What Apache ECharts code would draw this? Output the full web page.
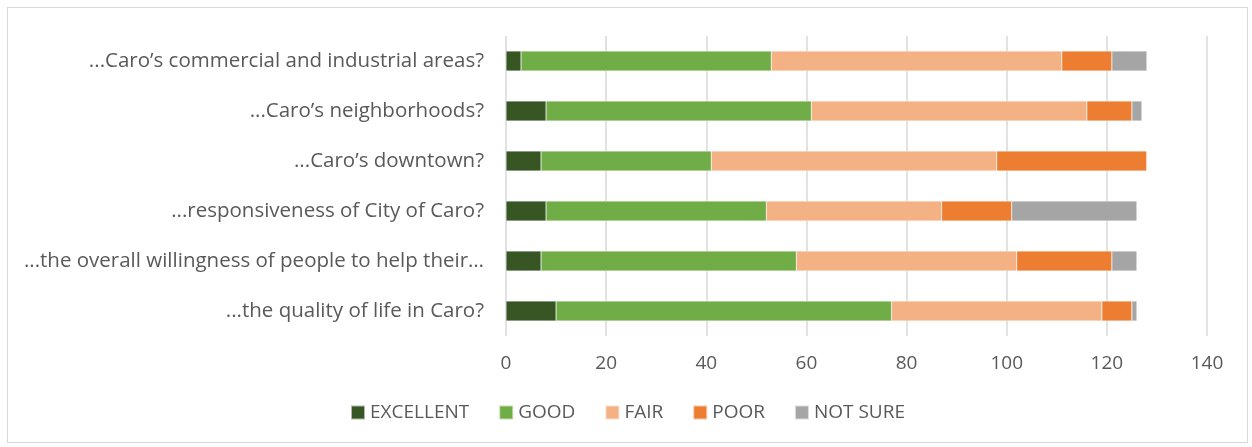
<!DOCTYPE html>
<html>
<head>
<meta charset="utf-8">
<script src="https://cdn.jsdelivr.net/npm/echarts@6/dist/echarts.min.js"></script>
<style>
	html,body{margin:0;padding:0;background:#fff;}
	#chart{position:absolute;left:7px;top:7px;width:1241px;height:436px;border:1px solid #d9d9d9;box-sizing:border-box;}
</style>
</head>
<body>
<div id="chart"></div>
<script>
	// questions, top to bottom
	var questions = [
		'...Caro\u2019s commercial and industrial areas?',
		'...Caro\u2019s neighborhoods?',
		'...Caro\u2019s downtown?',
		'...responsiveness of City of Caro?',
		'...the overall willingness of people to help their\u2026',
		'...the quality of life in Caro?'
	];
	var excellent = [3, 8, 7, 8, 7, 10];
	var good = [50, 53, 34, 44, 51, 67];
	var fair = [58, 55, 57, 35, 44, 42];
	var poor = [10, 9, 30, 14, 19, 6];
	var notSure = [7, 2, 0, 25, 5, 1];
	var xTicks = [0, 20, 40, 60, 80, 100, 120, 140];

	var names = ['EXCELLENT', 'GOOD', 'FAIR', 'POOR', 'NOT SURE'];
	var values = [excellent, good, fair, poor, notSure];
	var colors = ['#375623', '#70ad47', '#f4b183', '#ed7d31', '#a5a5a5'];

	var chart = echarts.init(document.getElementById('chart'));
	var font = '"Open Sans", "Noto Sans", sans-serif';

	chart.setOption({
		animation: false,
		color: colors,
		textStyle: { fontFamily: font },
		grid: { left: 498, right: 40, top: 28, bottom: 106 },
		legend: {
			data: names,
			bottom: 15,
			left: 'center',
			itemWidth: 14,
			itemHeight: 14,
			itemGap: 29,
			icon: 'rect',
			textStyle: { color: '#595959', fontSize: 19, fontFamily: font }
		},
		xAxis: {
			type: 'value',
			min: xTicks[0],
			max: xTicks[xTicks.length - 1],
			interval: 20,
			axisLine: { show: false },
			axisTick: { show: false },
			axisLabel: { color: '#595959', fontSize: 19, margin: 18 },
			splitLine: { lineStyle: { color: '#d9d9d9', width: 1.5 } }
		},
		yAxis: {
			type: 'category',
			data: questions,
			inverse: true,
			axisLine: { show: false },
			axisTick: { show: false },
			axisLabel: { color: '#595959', fontSize: 20.5, margin: 22 }
		},
		series: names.map(function (n, i) {
			return {
				name: n,
				type: 'bar',
				stack: 'total',
				barWidth: 20,
				itemStyle: { borderColor: 'rgba(255,255,255,0.6)', borderWidth: 0.5 },
				data: values[i]
			};
		})
	});
</script>
</body>
</html>
